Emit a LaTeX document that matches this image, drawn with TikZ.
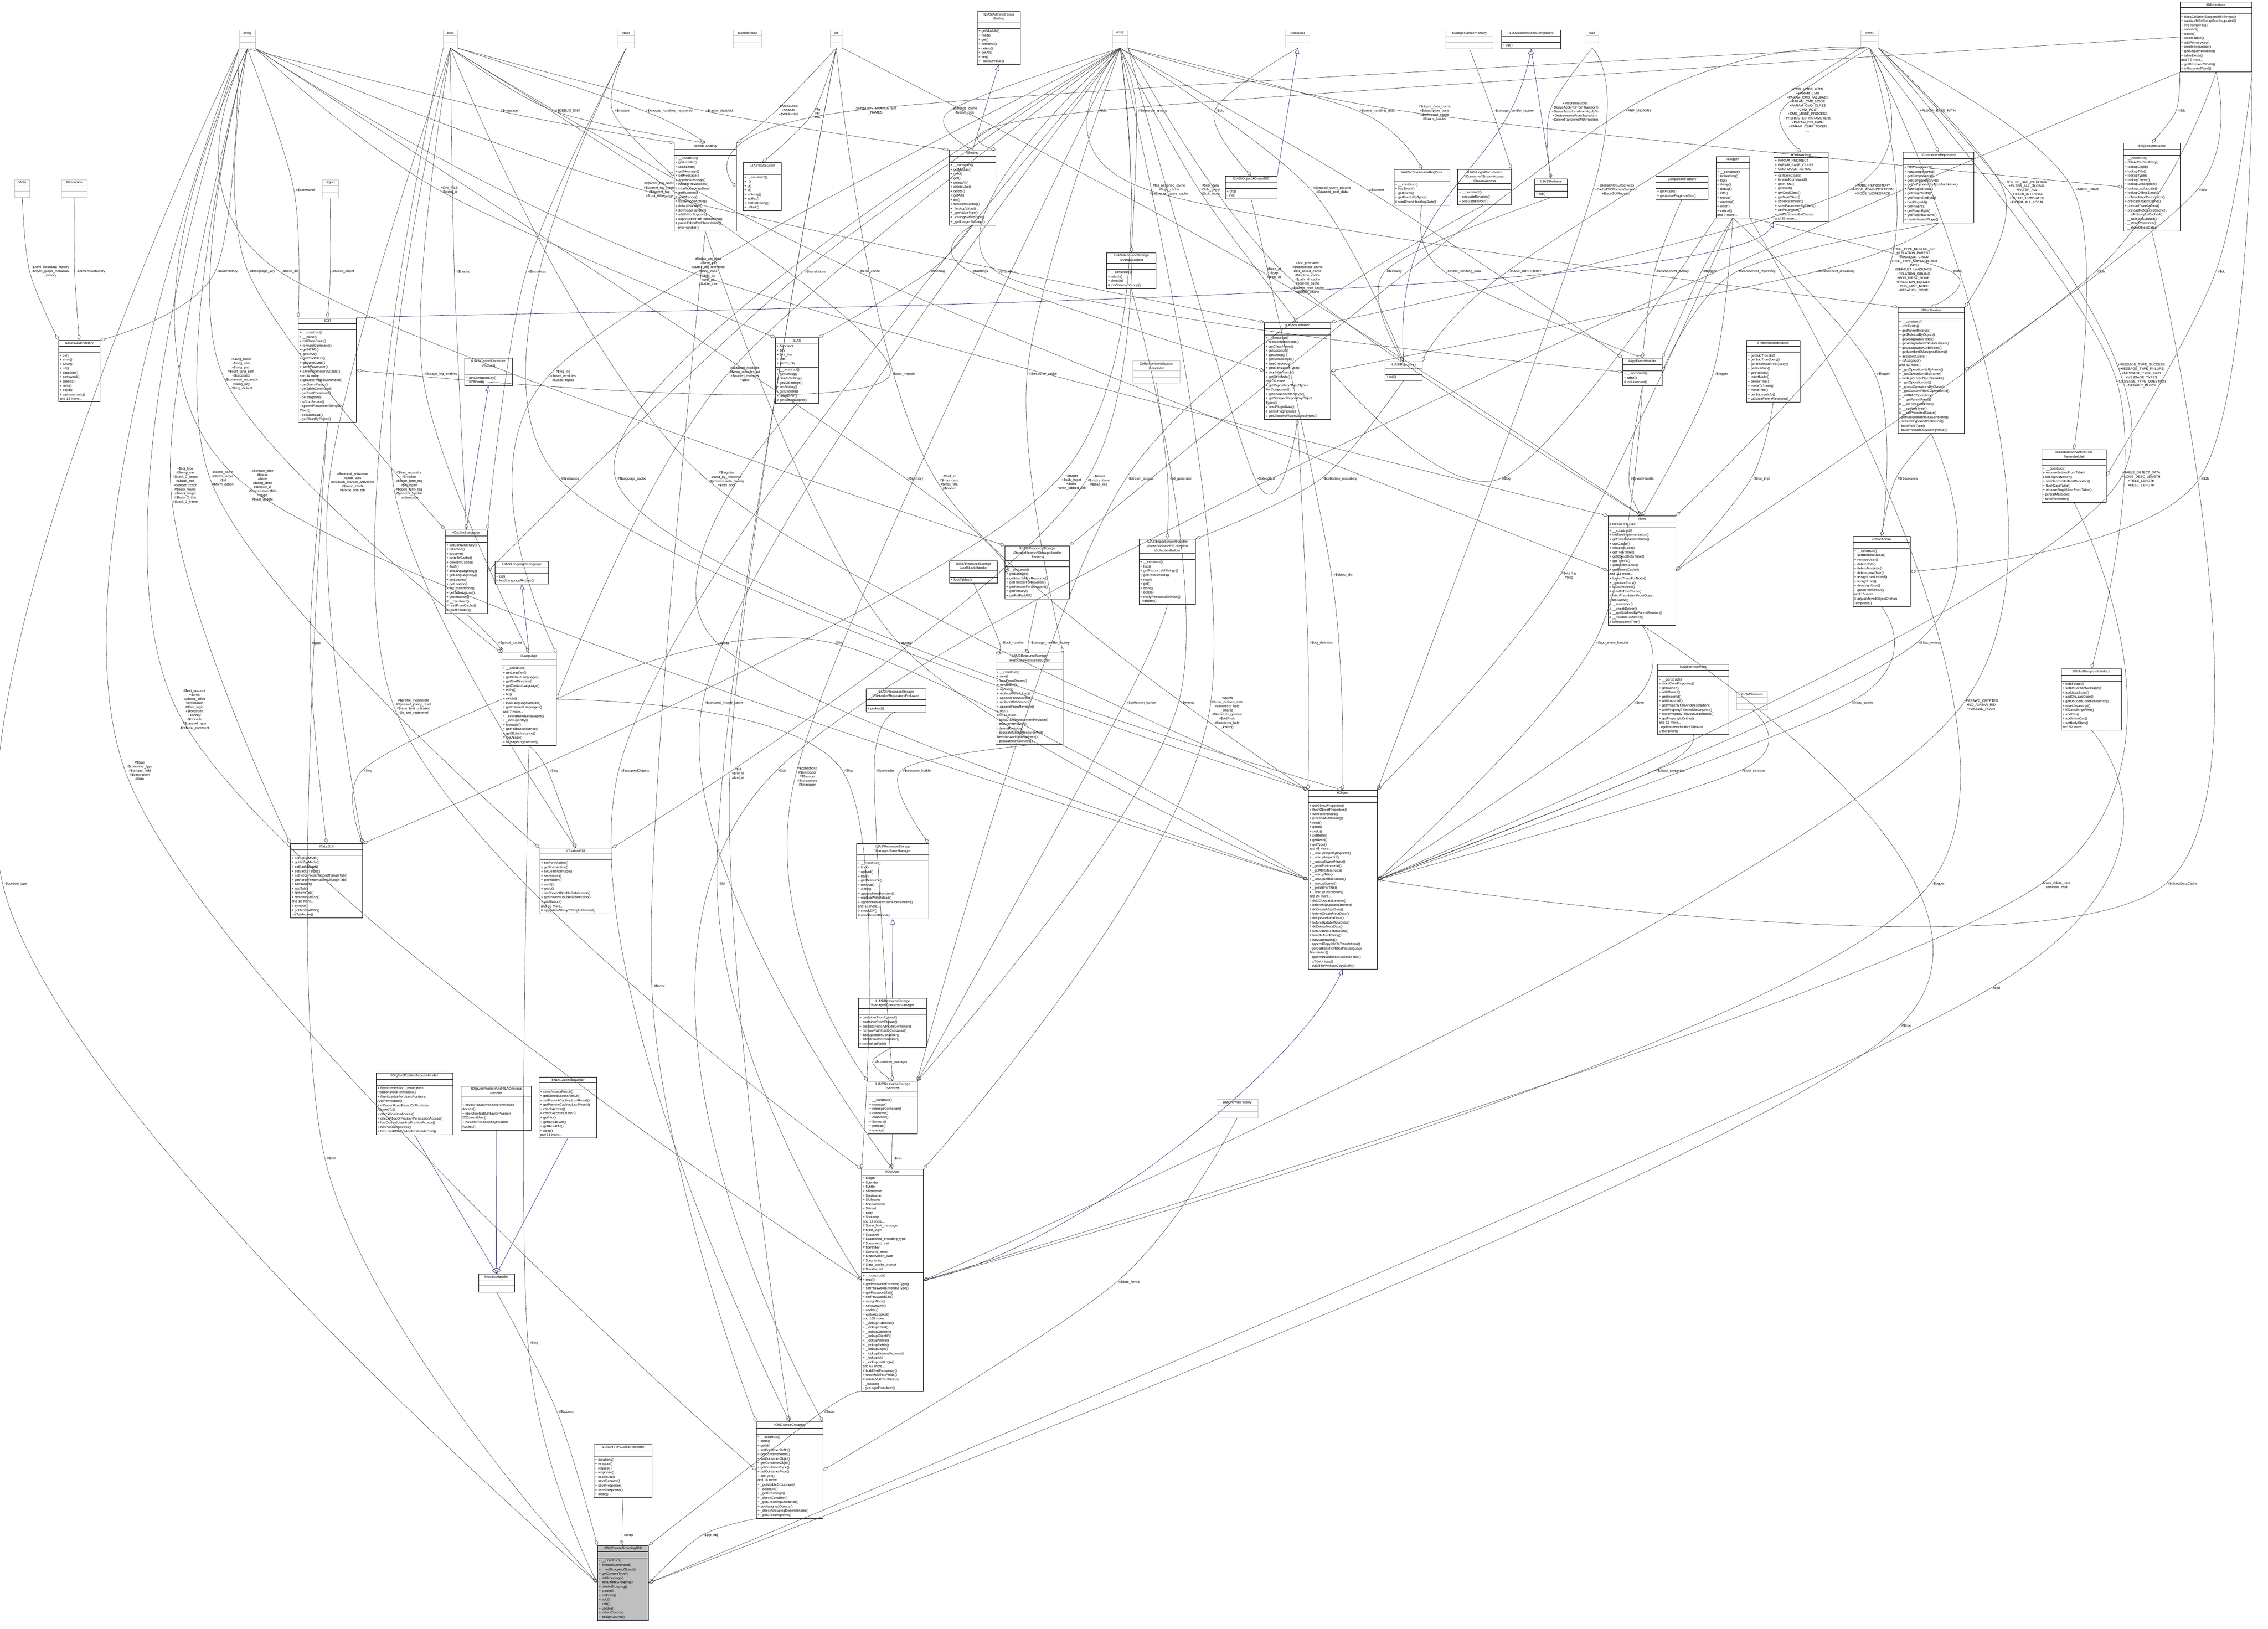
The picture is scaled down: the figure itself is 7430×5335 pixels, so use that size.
\documentclass[tikz,border=0pt]{standalone}
\usepackage{fontspec}
\setmainfont{Liberation Sans}
\usetikzlibrary{shapes.multipart,arrows.meta}
\definecolor{edgec}{HTML}{404040}
\definecolor{inhc}{HTML}{191970}
\newcounter{lc}
\tikzset{
 base/.style={rectangle split,rectangle split parts=3,draw,line width=0.12pt,anchor=north west,
   inner xsep=0.4pt,inner ysep=0.45pt,font=\fontsize{1.1pt}{1.42pt}\selectfont,align=left},
 cls/.style={base,draw=black},
 typ/.style={base,draw=gray!50},
 gui/.style={base,draw=black,fill=gray!50},
 agg/.style={draw=edgec,line width=0.1pt,-{Diamond[open,length=2pt,width=1.1pt,line width=0.1pt]}},
 inh/.style={draw=inhc,line width=0.1pt,-{Triangle[open,length=1.8pt,width=1.5pt,line width=0.1pt]}},
 lbl/.style={font=\fontsize{1.1pt}{1.35pt}\selectfont,align=center,inner xsep=0.5pt,inner ysep=0pt}
}
\newcommand\cls[8][cls]{\node[#1,text width=\dimexpr #5pt/10-0.8pt\relax] (#2) at (#3,#4)
 {\parbox[t]{\dimexpr #5pt/10-0.8pt\relax}{\centering #6}\nodepart{two}\vphantom{Ag}#7\nodepart{three}\vphantom{Ag}#8};}
\newcommand\typ[5]{\cls[typ]{#1}{#2}{#3}{#4}{#5}{}{}}
\newcommand\ag[4]{\stepcounter{lc}\node[lbl] (L\thelc) at (#2) {#4};
 \draw[agg] plot[smooth,tension=0.55] coordinates {(#1) (L\thelc.west) (#3)};}
\newcommand\bs{\textbackslash{}}
\begin{document}
\begin{tikzpicture}[x=0.1pt,y=-0.1pt]
\useasboundingbox (0,0) rectangle (7430,5335);
% ---------- type boxes ----------
\typ{string}{783}{98}{54}{string}
\typ{bool}{1452}{98}{46}{bool}
\typ{static}{2024}{98}{54}{static}
\typ{RunInterface}{2402}{98}{93}{RunInterface}
\typ{int}{2720}{98}{38}{int}
\typ{array}{3644}{98}{50}{array}
\typ{Container}{4212}{98}{78}{Container}
\typ{SHFtype}{4736}{98}{155}{StorageHandlerFactory}
\typ{trait}{5195}{98}{41}{trait}
\typ{const}{6096}{98}{56}{const}
\typ{Meta}{48}{588}{49}{Meta}
\typ{Dimension}{201}{588}{84}{Dimension}
\typ{object}{1055}{588}{53}{object}
\typ{CIG}{3711}{1182}{154}{CollectionIdentification\\Generator}
\typ{LOM}{5689}{2265}{100}{ilLOMServices}
\typ{DateFormatFactory}{3985}{3601}{135}{DateFormatFactory}
% ---------- classes ----------
\cls{Component}{4919}{98}{193}{ILIAS\bs Component\bs Component}{}{+ init()}
\cls{AdminSetting}{3201}{37}{141}{ILIAS\bs Administration\\\bs Setting}{}{+ getModule()\\+ read()\\+ get()\\+ deleteAll()\\+ delete()\\+ getAll()\\+ set()\\+ \_lookupValue()}
\cls{ilDBInterface}{7141}{6}{236}{ilDBInterface}{}{+ doesCollationSupportMB4Strings()\\+ sanitizeMB4StringIfNotSupported()\\+ initFromIniFile()\\+ connect()\\+ nextId()\\+ createTable()\\+ addPrimaryKey()\\+ createSequence()\\+ getSequenceName()\\+ tableExists()\\and 76 more...\\+ getReservedWords()\\+ isReservedWord()}
\cls{DataFactory}{191}{1114}{136}{ILIAS\bs Data\bs Factory}{}{+ ok()\\+ error()\\+ color()\\+ uri()\\+ dataSize()\\+ password()\\+ clientId()\\+ refId()\\+ objId()\\+ alphanumeric()\\and 12 more...}
\cls{ilCtrl}{977}{1041}{190}{ilCtrl}{}{+ \_\_construct()\\+ \_\_clone()\\+ callBaseClass()\\+ forwardCommand()\\+ getHTML()\\+ getCmd()\\+ getCmdClass()\\+ getNextClass()\\+ saveParameter()\\+ saveParameterByClass()\\and 34 more...\\\# getDeterminedCommand()\\- getQueryParam()\\- getTableCommand()\\- getPostCommand()\\- getTargetUrl()\\- isCmdSecure()\\- appendParameterStringsBy\\Class()\\- populateCall()\\- getClassByObject()}
\cls{CacheRequest}{1522}{1173}{155}{ILIAS\bs Cache\bs Container\\\bs Request}{}{+ getContainerKey()\\+ isForced()}
\cls{ilCachedLanguage}{1458}{1735}{138}{ilCachedLanguage}{}{+ getContainerKey()\\+ isForced()\\+ isActive()\\+ writeToCache()\\+ deleteInCache()\\+ flush()\\+ setLanguageKey()\\+ getLanguageKey()\\+ setLoaded()\\+ getLoaded()\\+ setTranslations()\\+ getTranslations()\\+ getInstance()\\\# \_\_construct()\\\# readFromCache()\\\# readFromDB()}
\cls{LangLanguage}{1621}{1838}{175}{ILIAS\bs Language\bs Language}{}{+ txt()\\+ loadLanguageModule()}
\cls{ilLanguage}{1643}{2139}{179}{ilLanguage}{}{+ \_\_construct()\\+ getLangKey()\\+ getDefaultLanguage()\\+ getTextDirection()\\+ getContentLanguage()\\+ txtlng()\\+ txt()\\+ exists()\\+ loadLanguageModule()\\+ getInstalledLanguages()\\and 7 more...\\+ \_getInstalledLanguages()\\+ \_lookupEntry()\\+ lookupId()\\+ getFallbackInstance()\\+ getGlobalInstance()\\\# logUsage()\\\# isUsageLogEnabled()}
\cls{ilErrorHandling}{2208}{468}{204}{ilErrorHandling}{}{+ \_\_construct()\\+ getHandler()\\+ raiseError()\\+ getMessage()\\+ setMessage()\\+ appendMessage()\\+ handlePreWhoops()\\\# initWhoopsHandlers()\\\# getRuntime()\\\# getWhoops()\\\# isDevmodeActive()\\\# defaultHandler()\\\# devmodeHandler()\\\# addEditorSupport()\\\# applyEditorPathTranslations()\\\# parseEditorPathTranslation()\\- errorHandler()}
\cls{Color}{2434}{532}{125}{ILIAS\bs Data\bs Color}{}{+ \_\_construct()\\+ r()\\+ g()\\+ b()\\+ asArray()\\+ asHex()\\+ asRGBString()\\+ isDark()}
\cls{ilSetting}{3109}{491}{153}{ilSetting}{}{+ \_\_construct()\\+ getModule()\\+ read()\\+ get()\\+ deleteAll()\\+ deleteLike()\\+ delete()\\+ getAll()\\+ set()\\+ setScormDebug()\\+ \_lookupValue()\\+ \_getValueType()\\+ \_changeValueType()\\+ \_getLongerSettings()}
\cls{EvSubject}{3625}{827}{161}{ILIAS\bs ResourceStorage\\\bs Events\bs Subject}{}{+ \_\_construct()\\+ attach()\\+ detach()\\\# initObserverGroup()}
\cls{ObjectDIC}{4014}{576}{169}{ILIAS\bs Object\bs ilObjectDIC}{}{+ dic()\\- init()}
\cls{ArtifactEHD}{4566}{554}{183}{ilArtifactEventHandlingData}{}{+ \_\_construct()\\+ hasEvent()\\+ getEvent()\\+ getEventsByType()\\\# readEventHandlingData()}
\cls{StreamAccess}{4775}{554}{175}{ILIAS\bs LegalDocuments\\\bs Consumer\bs StreamAccess\\\bs StreamAccess}{}{+ \_\_construct()\\+ populateRevision()\\+ populateFavour()}
\cls{ILIAS}{2540}{1106}{140}{ILIAS}{+ \$account\\+ \$ini\\+ \$ini\_ilias\\+ \$db\\+ \$error\_obj}{+ \_\_construct()\\+ getSetting()\\+ deleteSetting()\\+ getAllSettings()\\+ setSetting()\\+ getClientId()\\+ raiseError()\\\# getSettingObject()}
\cls{ilObjectDefinition}{4142}{1056}{217}{ilObjectDefinition}{}{+ \_\_construct()\\+ readDefinitionData()\\+ getClassName()\\+ getLocation()\\+ getGroup()\\+ getGroupOfObj()\\+ hasCheckbox()\\+ getTranslationType()\\+ stopInheritance()\\+ getDevMode()\\and 36 more...\\+ getRepositoryObjectTypes\\ForComponent()\\+ getComponentForType()\\+ getGroupedRepositoryObject\\Types()\\\# readPluginData()\\\# parsePluginData()\\\# getGroupedPluginObjectTypes()}
\cls{Repository}{4537}{1185}{121}{ILIAS\bs Repository}{}{+ init()}
\cls{CollectionBuilder}{3731}{1765}{185}{ILIAS\bs Export\bs ImportHandler\\\bs Parser\bs NodeInfo\bs Collection\\\bs CollectionBuilder}{}{+ \_\_construct()\\+ has()\\+ getResourceIdStrings()\\+ getResourceIds()\\+ new()\\+ get()\\+ store()\\+ delete()\\+ notifyResourceDeletion()\\- validate()}
\cls{LockHandler}{3110}{1837}{158}{ILIAS\bs ResourceStorage\\\bs Lock\bs LockHandler}{}{+ lockTables()}
\cls{StorageHF}{3292}{1787}{211}{ILIAS\bs ResourceStorage\\\bs StorageHandler\bs StorageHandler\\Factory}{}{+ \_\_construct()\\+ getBaseDir()\\+ getHandlerForResource()\\+ getHandlerForRevision()\\+ getHandlerForStorageId()\\+ getPrimary()\\+ getRidForURI()}
\cls{ResourceBuilder}{3261}{2139}{221}{ILIAS\bs ResourceStorage\\\bs Resource\bs ResourceBuilder}{}{+ \_\_construct()\\+ new()\\+ newFromStream()\\+ newBlank()\\+ append()\\+ replaceWithUpload()\\+ appendFromStream()\\+ replaceWithStream()\\+ appendFromRevision()\\+ has()\\and 12 more...\\- buildDraftReplacementRevision()\\- ensurePathInZIP()\\- deleteRevision()\\- populateNakedResourceWith\\RevisionAndStakeholders()\\- populateRevisionInfo()}
\cls{Preloader}{2837}{2256}{196}{ILIAS\bs ResourceStorage\\\bs Preloader\bs RepositoryPreloader}{}{+ preload()}
\cls{ilTabsGUI}{951}{2763}{236}{ilTabsGUI}{}{+ setSetupMode()\\+ getSetupMode()\\+ setBackTarget()\\+ setBack2Target()\\+ setForcePresentationOfSingleTab()\\+ getForcePresentationOfSingleTab()\\+ addTarget()\\+ addTab()\\+ removeTab()\\+ removeSubTab()\\and 18 more...\\\# symbol()\\\# getTabTextOfId()\\- isTabActive()}
\cls{ilToolbarGUI}{1768}{2778}{236}{ilToolbarGUI}{}{+ setFormAction()\\+ getFormAction()\\+ setLeadingImage()\\+ setHidden()\\+ getHidden()\\+ setId()\\+ getId()\\+ setPreventDoubleSubmission()\\+ getPreventDoubleSubmission()\\+ addButton()\\and 30 more...\\\# applyAutoStickyToSingleElement()}
\cls{BaseManager}{2806}{2763}{236}{ILIAS\bs ResourceStorage\\\bs Manager\bs BaseManager}{}{+ \_\_construct()\\+ find()\\+ upload()\\+ has()\\+ getResource()\\+ remove()\\+ clone()\\+ appendNewRevision()\\+ replaceWithUpload()\\+ appendNewRevisionFromStream()\\and 18 more...\\\# checkZIP()\\\# newStreamBased()}
\cls{ContainerManager}{2811}{3269}{224}{ILIAS\bs ResourceStorage\\\bs Manager\bs ContainerManager}{}{+ containerFromUpload()\\+ containerFromStream()\\+ createDirectoryInsideContainer()\\+ removePathInsideContainer()\\+ addUploadToContainer()\\+ addStreamToContainer()\\\# normalizePath()}
\cls{Services}{2843}{3541}{161}{ILIAS\bs ResourceStorage\\\bs Services}{}{+ \_\_construct()\\+ manage()\\+ manageContainer()\\+ consume()\\+ collection()\\+ flavours()\\+ preload()\\+ events()}
\cls{ilObjUser}{2822}{3829}{202}{ilObjUser}{+ \$login\\+ \$gender\\+ \$utitle\\+ \$firstname\\+ \$lastname\\+ \$fullname\\+ \$department\\+ \$street\\+ \$city\\+ \$country\\and 12 more...\\\# \$time\_limit\_message\\\# \$last\_login\\\# \$passwd\\\# \$password\_encoding\_type\\\# \$password\_salt\\\# \$birthday\\\# \$second\_email\\\# \$inactivation\_date\\\# \$org\_units\\\# \$last\_profile\_prompt\\\# \$avatar\_rid}{+ \_\_construct()\\+ read()\\+ getPasswordEncodingType()\\+ setPasswordEncodingType()\\+ getPasswordSalt()\\+ setPasswordSalt()\\+ assignData()\\+ saveAsNew()\\+ update()\\+ writeAccepted()\\and 169 more...\\+ \_lookupFullname()\\+ \_lookupEmail()\\+ \_lookupGender()\\+ \_lookupClientIP()\\+ \_lookupName()\\+ \_lookupFields()\\+ \_lookupLogin()\\+ \_lookupExternalAccount()\\+ \_lookupId()\\+ \_lookupLastLogin()\\and 62 more...\\\# buildTextFromArray()\\\# readMultiTextFields()\\\# deleteMultiTextFields()\\- \_lookup()\\- getLoginFromAuth()}
\cls{OrgPAH}{1232}{3514}{251}{ilOrgUnitPositionAccessHandler}{}{+ filterUserIdsForCurrentUsers\\PositionsAndPermission()\\+ filterUserIdsForUsersPositions\\AndPermission()\\+ isCurrentUserBasedOnPositions\\AllowedTo()\\+ checkPositionAccess()\\+ checkRbacOrPositionPermissionAccess()\\+ hasCurrentUserAnyPositionAccess()\\+ hasPositionAccess()\\+ hasUserRBACorAnyPositionAccess()}
\cls{OrgPRBAC}{1510}{3557}{230}{ilOrgUnitPositionAndRBACAccess\\Handler}{}{+ checkRbacOrPositionPermission\\Access()\\+ filterUserIdsByRbacOrPosition\\OfCurrentUser()\\+ hasUserRBACorAnyPosition\\Access()}
\cls{RBACAH}{1765}{3528}{189}{ilRBACAccessHandler}{}{+ storeAccessResult()\\+ getStoredAccessResult()\\+ setPreventCachingLastResult()\\+ getPreventCachingLastResult()\\+ checkAccess()\\+ checkAccessOfUser()\\+ getInfo()\\+ getResultLast()\\+ getResultAll()\\+ clear()\\and 11 more...}
\cls{ilAccessHandler}{1567}{4173}{118}{ilAccessHandler}{}{}
\cls{HttpState}{1945}{4731}{190}{ILIAS\bs HTTP\bs GlobalHttpState}{}{+ durations()\\+ wrapper()\\+ request()\\+ response()\\+ cookieJar()\\+ saveRequest()\\+ saveResponse()\\+ sendResponse()\\+ close()}
\cls[gui]{GUI}{1957}{5062}{167}{ilObjCourseGroupingGUI}{}{+ \_\_construct()\\+ executeCommand()\\+ \_\_initGroupingObject()\\+ getContentType()\\+ listGroupings()\\+ askDeleteGrouping()\\+ deleteGrouping()\\+ create()\\+ initForm()\\+ add()\\+ edit()\\+ update()\\+ selectCourse()\\+ assignCourse()}
\cls{ilObjCourseGrouping}{2477}{4657}{218}{ilObjCourseGrouping}{}{+ \_\_construct()\\+ setId()\\+ getId()\\+ setContainerRefId()\\+ getContainerRefId()\\+ setContainerObjId()\\+ getContainerObjId()\\+ getContainerType()\\+ setContainerType()\\+ setType()\\and 18 more...\\+ \_getVisibleGroupings()\\+ \_deleteAll()\\+ \_getGroupings()\\+ \_checkCondition()\\+ \_getGroupingCourseIds()\\+ getAssignedObjects()\\+ \_checkGroupingDependencies()\\+ \_getGroupingItems()}
\cls{ilObject}{4285}{2588}{226}{ilObject}{}{+ getObjectProperties()\\+ flushObjectProperties()\\+ withReferences()\\+ processAutoRating()\\+ read()\\+ getId()\\+ setId()\\+ setRefId()\\+ getRefId()\\+ getType()\\and 48 more...\\+ \_lookupObjIdByImportId()\\+ \_lookupImportId()\\+ \_lookupOwnerName()\\+ \_getIdForImportId()\\+ \_getAllReferences()\\+ \_lookupTitle()\\+ \_lookupOfflineStatus()\\+ \_lookupOwner()\\+ \_getIdsForTitle()\\+ \_lookupDescription()\\and 24 more...\\\# doMDUpdateListener()\\\# beforeMDUpdateListener()\\\# doCreateMetaData()\\\# beforeCreateMetaData()\\\# doUpdateMetaData()\\\# beforeUpdateMetaData()\\\# doDeleteMetaData()\\\# beforeDeleteMetaData()\\\# handleAutoRating()\\\# hasAutoRating()\\- appendCopyInfoToTranslations()\\- getCallbackForTitlesPerLanguage\\Translation()\\- appendNumberOfCopiesToTitle()\\- isTitleUnique()\\- buildTitleWithoutCopySuffix()}
\cls{ilObjectProperties}{5430}{2175}{233}{ilObjectProperties}{}{+ \_\_construct()\\+ storeCoreProperties()\\+ getOwner()\\+ withOwner()\\+ getImportId()\\+ withImportId()\\+ getPropertyTitleAndDescription()\\+ withPropertyTitleAndDescription()\\+ storePropertyTitleAndDescription()\\+ getPropertyIsOnline()\\and 12 more...\\- updateMetadataForTitleAnd\\Description()}
\cls{ilGlobalTpl}{6752}{2190}{198}{ilGlobalTemplateInterface}{}{+ hideFooter()\\+ setOnScreenMessage()\\+ addJavaScript()\\+ addOnLoadCode()\\+ getOnLoadCodeForAsynch()\\+ resetJavascript()\\+ fillJavaScriptFiles()\\+ addCss()\\+ addInlineCss()\\+ setBodyClass()\\and 52 more...}
\cls{Refinery}{5027}{585}{107}{ILIAS\bs Refinery}{}{+ init()}
\cls{ComponentFactory}{5424}{577}{171}{ComponentFactory}{}{+ getPlugin()\\+ getActivePluginsInSlot()}
\cls{ilLogger}{5621}{512}{110}{ilLogger}{}{+ \_\_construct()\\+ isHandling()\\+ log()\\+ dump()\\+ debug()\\+ info()\\+ notice()\\+ warning()\\+ error()\\+ critical()\\and 7 more...}
\cls{ilCtrlInterface}{5810}{498}{179}{ilCtrlInterface}{+ PARAM\_REDIRECT\\+ PARAM\_BASE\_CLASS\\+ CMD\_MODE\_ASYNC}{+ callBaseClass()\\+ forwardCommand()\\+ getHTML()\\+ getCmd()\\+ getCmdClass()\\+ getNextClass()\\+ saveParameter()\\+ saveParameterByClass()\\+ setParameter()\\+ setParameterByClass()\\and 32 more...}
\cls{ilComponentRepository}{6234}{498}{231}{ilComponentRepository}{}{+ hasComponent()\\+ hasComponentId()\\+ getComponents()\\+ getComponentById()\\+ getComponentByTypeAndName()\\+ hasPluginSlotId()\\+ getPluginSlots()\\+ getPluginSlotById()\\+ hasPluginId()\\+ getPlugins()\\+ getPluginById()\\+ getPluginByName()\\+ hasActivatedPlugin()}
\cls{ilObjectDataCache}{6956}{468}{185}{ilObjectDataCache}{}{+ \_\_construct()\\+ deleteCachedEntry()\\+ lookupObjId()\\+ lookupTitle()\\+ lookupType()\\+ lookupOwner()\\+ lookupDescription()\\+ lookupLastUpdate()\\+ lookupOfflineStatus()\\+ isTranslatedDescription()\\+ preloadObjectCache()\\+ preloadTranslations()\\+ preloadReferenceCache()\\- \_\_isReferenceCached()\\- \_\_isObjectCached()\\- \_\_storeReference()\\- \_\_storeObjectData()}
\cls{ilAppEventHandler}{5316}{1173}{128}{ilAppEventHandler}{}{+ \_\_construct()\\+ raise()\\\# initListeners()}
\cls{ilTreeImpl}{5721}{1114}{175}{ilTreeImplementation}{}{+ getSubTreeIds()\\+ getSubTreeQuery()\\+ getTrashSubTreeQuery()\\+ getRelation()\\+ getPathIds()\\+ insertNode()\\+ deleteTree()\\+ moveToTrash()\\+ moveTree()\\+ getSubtreeInfo()\\+ validateParentRelations()}
\cls{ilRbacReview}{6217}{1006}{218}{ilRbacReview}{}{+ \_\_construct()\\+ roleExists()\\+ getParentRoleIds()\\+ getRoleListByObject()\\+ getAssignableRoles()\\+ getAssignableRolesInSubtree()\\+ getAssignableChildRoles()\\+ getNumberOfAssignedUsers()\\+ assignedUsers()\\+ isAssigned()\\and 43 more...\\+ \_getOperationIdsByName()\\+ \_getOperationIdByName()\\+ lookupCreateOperationIds()\\+ \_getOperationList()\\+ \_groupOperationsByClass()\\+ \_getCustomRBACOperationId()\\+ \_isRBACOperation()\\\# \_\_getParentRoles()\\\# \_\_setTemplateFilter()\\\# \_\_setRoleType()\\\# \_\_setProtectedStatus()\\- getAssignableRolesGenerator()\\- setRoleTypeAndProtection()\\- buildRoleType()\\- buildProtectionByStringValue()}
\cls{ilCronDelete}{6688}{1472}{211}{ilCronDeleteInactiveUser\\ReminderMail}{}{+ \_\_construct()\\+ removeEntriesFromTableIf\\LastLoginIsNewer()\\+ sendReminderMailIfNeeded()\\+ flushDataTable()\\+ removeSingleUserFromTable()\\- persistMailSent()\\- sendReminder()}
\cls{ilTree}{5268}{1690}{221}{ilTree}{\# DEFAULT\_GAP}{+ \_\_construct()\\+ initTreeImplementation()\\+ getTreeImplementation()\\+ useCache()\\+ initLangCode()\\+ getTreeTable()\\+ getObjectDataTable()\\+ getTreePk()\\+ getDepthCache()\\+ getParentCache()\\and 111 more...\\+ lookupTreesForNode()\\+ \_removeEntry()\\\# isCacheUsed()\\\# resetInTreeCache()\\\# fetchTranslationFromObject\\DataCache()\\\# \_\_renumber()\\\# \_\_checkDelete()\\\# \_\_getSubTreeByParentRelation()\\\# \_\_validateSubtrees()\\\# isRepositoryTree()}
\cls{ilRbacAdmin}{6070}{1757}{187}{ilRbacAdmin}{}{+ \_\_construct()\\+ setBlockedStatus()\\+ removeUser()\\+ deleteRole()\\+ deleteTemplate()\\+ deleteLocalRole()\\+ assignUserLimited()\\+ assignUser()\\+ deassignUser()\\+ grantPermission()\\and 15 more...\\\# adjustMovedObjectOrphan\\Templates()}
% ---------- inheritance ----------
\draw[inh] (ilSetting.north) -- (AdminSetting.south);
\draw[inh] (ObjectDIC.north east) -- (Container.south);
\draw[inh] (ilCachedLanguage.north) -- (CacheRequest.south);
\draw[inh] (ilLanguage.north) -- (LangLanguage.south);
\draw[inh] (ContainerManager.north) -- (BaseManager.south);
\draw[inh] (Refinery.north) -- (Component.south);
\draw[inh] (Repository.north) .. controls (4560,600) and (4930,600) .. (Component.south);
\draw[inh] (ilCtrl.north east) .. controls (1600,1020) and (5700,1000) .. (ilCtrlInterface.south west);
\draw[inh] (OrgPAH.south) -- (ilAccessHandler.north);
\draw[inh] (OrgPRBAC.south) -- (ilAccessHandler.north);
\draw[inh] (RBACAH.south) -- (ilAccessHandler.north);
\draw[inh] (ilObjUser.east) .. controls (3500,4100) and (4250,3500) .. (ilObject.south);
% ---------- aggregations ----------
\ag{string.south}{1669,363}{ilErrorHandling.north west}{\#\$message}
\ag{bool.south}{1860,363}{ilErrorHandling.north}{\#\$DEBUG\_ENV}
\ag{static.south}{2038,363}{ilErrorHandling.160}{+\$module}
\ag{bool.south east}{2192,363}{ilErrorHandling.north}{\#\$whoops\_handlers\_registered}
\ag{bool.south east}{2356,363}{ilSetting.north west}{\#\$cache\_disabled}
\ag{Meta.south}{165,890}{DataFactory.north west}{-\$html\_metadata\_factory\\-\$open\_graph\_metadata\\\_factory}
\ag{Dimension.south}{298,890}{DataFactory.north}{-\$dimensionfactory}
\ag{object.south}{1125,890}{ilCtrl.north}{\#\$exec\_object}
\ag{string.south}{1000,622}{ilCtrl.north west}{\#\$command}
\ag{string.south west}{745,890}{DataFactory.north east}{-\$colorfactory}
\ag{string.south}{860,890}{ilCachedLanguage.north west}{\#\$language\_key}
\ag{string.south}{950,890}{StorageHF.north west}{-\$base\_dir}
\ag{bool.south}{1518,890}{ilCachedLanguage.north}{\#\$loaded}
\ag{static.south}{1760,890}{ilCachedLanguage.north east}{\#\$instances}
\ag{string.south east}{1472,622}{ILIAS.north west}{+\$INI\_FILE\\+\$client\_id}
\ag{string.south east}{2160,622}{ilObjectDefinition.north west}{\#\$parent\_tag\_name\\\#\$current\_tag\_name\\\#\$current\_tag\\\#\$root\_trans\_type}
\ag{string.south east}{2320,890}{ilTree.north west}{\#\$table\_obj\_data\\\#\$tree\_pk\\\#\$table\_obj\_reference\\-\$lang\_code\\\#\$obj\_pk\\\#\$ref\_pk\\\#\$table\_tree}
\ag{string.south}{790,1225}{ilLanguage.north west}{+\$lang\_name\\+\$lang\_user\\+\$lang\_path\\\#\$cust\_lang\_path\\+\$separator\\+\$comment\_separator\\+\$lang\_key\\+\$lang\_default}
\ag{bool.south}{1445,1225}{ilLanguage.north}{\#\$usage\_log\_enabled}
\ag{array.south}{1845,1232}{ilLanguage.north east}{\#\$lng\_log\\\#\$used\_modules\\\#\$used\_topics}
\ag{array.south}{2440,1225}{ilLanguage.east}{\#\$cached\_modules\\\#\$map\_modules\_txt\\+\$loaded\_modules\\+\$text}
\ag{string.south}{607,1590}{ilTabsGUI.north west}{+\$obj\_type\\\#\$temp\_var\\\#\$back\_2\_target\\\#\$back\_title\\+\$target\_script\\\#\$back\_frame\\+\$back\_target\\\#\$back\_2\_title\\\#\$back\_2\_frame}
\ag{string.south}{730,1568}{ilToolbarGUI.north west}{\#\$form\_name\\\#\$form\_target\\\#\$id\\\#\$form\_action}
\ag{string.south}{860,1590}{ilObject.west}{\#\$create\_date\\\#\$desc\\\#\$title\\\#\$long\_desc\\\#\$import\_id\\+\$untranslatedTitle\\\#\$type\\\#\$last\_update}
\ag{bool.south}{1155,1580}{ilTabsGUI.north east}{\#\$manual\_activation\\\#\$sub\_tabs\\\#\$subtab\_manual\_activation\\+\$setup\_mode\\\#\$force\_one\_tab}
\ag{bool.south}{1340,1590}{ilToolbarGUI.north}{\#\$has\_separator\\\#\$hidden\\\#\$close\_form\_tag\\\#\$multipart\\\#\$open\_form\_tag\\\#\$prevent\_double\\\_submission}
\ag{static.south}{1868,1568}{ilObject.north west}{\#\$instances}
\ag{array.south}{2070,1568}{ilObject.north}{\#\$language\_cache}
\ag{bool.south}{2380,1570}{ilObject.north west}{\#\$register\\\#\$call\_by\_reference\\-\$process\_auto\_reating\\\#\$add\_dots}
\ag{int.south}{2584,361}{ilErrorHandling.north east}{-\$MESSAGE\\+\$FATAL\\+\$WARNING}
\ag{int.south}{2678,372}{Color.north}{\#\$g\\\#\$r\\\#\$b}
\ag{const.south}{2868,363}{ilErrorHandling.east}{-SENSITIVE\_PARAMETER\\\_NAMES}
\ag{array.south}{3160,363}{ilSetting.north}{-\$settings\_cache\\-\$value\_type}
\ag{ilDBInterface.west}{3613,363}{ilSetting.north east}{\#\$db}
\ag{array.south}{3777,363}{EvSubject.north}{\#\$observer\_groups}
\ag{Container.south}{3998,363}{ObjectDIC.north}{-\$dic}
\ag{array.south east}{4512,363}{ArtifactEHD.north}{\#\$event\_handling\_data}
\ag{array.south east}{4700,370}{ilObjectDataCache.west}{\#\$object\_data\_cache\\\#\$description\_trans\\\#\$reference\_cache\\\#\$trans\_loaded}
\ag{SHFtype.south}{4960,363}{StreamAccess.north east}{-\$storage\_handler\_factory}
\ag{array.south}{3830,622}{ilRbacReview.north west}{\#\$is\_assigned\_cache\\\#\$ops\_cache\\\#\$assigned\_users\_cache}
\ag{array.south}{3966,622}{ilObjectDefinition.north}{\#\$obj\_data\\\#\$obj\_group\\\#\$sub\_types}
\ag{array.south}{4364,622}{Repository.north}{\#\$passed\_query\_params\\\#\$passed\_post\_data}
\ag{array.south}{4510,622}{ilAppEventHandler.north west}{\#\$listener}
\ag{array.south}{2672,890}{ilCachedLanguage.east}{\#\$translations}
\ag{bool.south}{2850,890}{ilTree.west}{\#\$use\_cache}
\ag{ilSetting.south}{3073,890}{ILIAS.north east}{\#\$setting}
\ag{ilSetting.south}{3212,890}{ilObjectDefinition.west}{\#\$settings}
\ag{array.south}{3300,890}{ilAppEventHandler.west}{\#\$handlers}
\ag{int.south east}{4173,895}{ilTree.north}{\#\$tree\_id\\-\$gap\\\#\$root\_id}
\ag{array.south east}{4284,910}{ilTree.north}{\#\$oc\_preloaded\\\#\$translation\_cache\\\#\$is\_saved\_cache\\\#\$in\_tree\_cache\\-\$path\_id\_cache\\\#\$parent\_cache\\\#\$parent\_type\_cache\\\#\$depth\_cache}
\ag{Refinery.south}{4568,890}{Repository.north}{\#\$refinery}
\ag{ArtifactEHD.south}{4795,890}{ilAppEventHandler.north}{-\$event\_handling\_data}
\ag{const.south west}{4997,890}{Repository.north east}{+BASE\_DIRECTORY}
\ag{bool.south}{2960,1225}{ilCtrl.east}{-\$auto\_migrate}
\ag{array.south}{3417,1225}{ResourceBuilder.north east}{\#\$resource\_cache}
\ag{string.south east}{3000,1568}{StorageHF.west}{\#\$primary}
\ag{int.south}{3110,1580}{ilObject.north west}{\#\$ref\_id\\\#\$max\_desc\\\#\$max\_title\\\#\$owner}
\ag{LockHandler.south}{3318,2106}{ResourceBuilder.north west}{-\$lock\_handler}
\ag{StorageHF.south}{3440,2106}{ResourceBuilder.north}{-\$storage\_handler\_factory}
\ag{array.south}{3510,1580}{ilTabsGUI.north east}{+\$target\\+\$sub\_target\\+\$tabs\\+\$non\_tabbed\_link}
\ag{array.south}{3600,1575}{ilToolbarGUI.north east}{+\$items\\\#\$sticky\_items\\\#\$lead\_img}
\ag{StreamAccess.south}{3737,1568}{Services.north east}{-\$stream\_access}
\ag{CIG.south}{3868,1568}{CollectionBuilder.north}{-\$id\_generator}
\ag{array.south east}{4148,1568}{ilObjectDefinition.south}{+\$objectList}
\ag{Repository.south}{4390,1568}{CollectionBuilder.north east}{-\$collection\_repository}
\ag{ilLogger.south west}{4935,1568}{ilObjectDefinition.east}{\#\$log}
\ag{trait.south}{5160,365}{Refinery.north}{+ProblemBuilder\\+DeriveApplyToFromTransform\\+DeriveTransformFromApplyTo\\+DeriveInvokeFromTransform\\+DeriveTransformWithProblem}
\ag{const.south}{5368,363}{StorageHF.north east}{+PHP\_MEMORY}
\ag{const.south}{5922,360}{ilCtrlInterface.north}{+CMD\_MODE\_HTML\\+PARAM\_CMD\\+PARAM\_CMD\_FALLBACK\\+PARAM\_CMD\_MODE\\+PARAM\_CMD\_CLASS\\+CMD\_POST\\+CMD\_MODE\_PROCESS\\+PROTECTED\_PARAMETERS\\+PARAM\_CID\_PATH\\+PARAM\_CSRF\_TOKEN\\...}
\ag{const.south}{6348,363}{ilComponentRepository.north}{+PLUGIN\_BASE\_PATH}
\ag{ilDBInterface.south west}{7148,363}{ilObjectDataCache.north}{\#\$db}
\ag{trait.south}{5294,622}{ilObject.north east}{+GlobalDICGUIServices\\+GlobalDICDomainServices\\+BaseGUIRequest}
\ag{const.south}{6134,622}{ilObjectDefinition.north east}{+MODE\_REPOSITORY\\+MODE\_ADMINISTRATION\\+MODE\_WORKSPACE}
\ag{const.south east}{6640,630}{ilRbacReview.north east}{+FILTER\_NOT\_INTERNAL\\+FILTER\_ALL\_GLOBAL\\+FILTER\_ALL\\+FILTER\_INTERNAL\\+FILTER\_TEMPLATES\\+FILTER\_ALL\_LOCAL}
\ag{const.south east}{6838,622}{ilCronDelete.north}{+TABLE\_NAME}
\ag{ilDBInterface.south}{7217,622}{ilRbacReview.east}{\#\$db}
\ag{ComponentFactory.south}{5480,890}{ilAppEventHandler.north}{\#\$component\_factory}
\ag{ilLogger.south}{5602,890}{ilAppEventHandler.north east}{\#\$logger}
\ag{ilComponentRepository.south}{5756,890}{ilAppEventHandler.east}{\#\$component\_repository}
\ag{ilComponentRepository.south}{6015,890}{ilObjectDefinition.east}{\#\$component\_repository}
\ag{const.south}{6268,890}{ilTree.north east}{+TREE\_TYPE\_NESTED\_SET\\+RELATION\_PARENT\\+RELATION\_CHILD\\+TREE\_TYPE\_MATERIALIZED\\\_PATH\\\#DEFAULT\_LANGUAGE\\+RELATION\_SIBLING\\+POS\_FIRST\_NODE\\+RELATION\_EQUALS\\+POS\_LAST\_NODE\\+RELATION\_NONE\\...}
\ag{ilLogger.south east}{6413,890}{ilRbacReview.north}{\#\$log}
\ag{ilDBInterface.south}{6883,890}{ilTree.east}{\#\$db}
\ag{ilDBInterface.south east}{7278,890}{ilCronDelete.east}{\#\$db}
\ag{ilAppEventHandler.south}{5382,1568}{ilTree.north}{\#\$eventHandler}
\ag{ilTreeImpl.south}{5771,1568}{ilTree.east}{-\$tree\_impl}
\ag{ilRbacReview.south}{6250,1568}{ilRbacAdmin.north}{\#\$rbacreview}
\ag{const.south east}{7015,1570}{ilObject.east}{+TABLE\_OBJECT\_DATA\\+LONG\_DESC\_LENGTH\\+TITLE\_LENGTH\\+DESC\_LENGTH}
\ag{ilDBInterface.south east}{7224,1568}{ilRbacAdmin.east}{\#\$db}
\ag{ilLogger.south}{5639,1225}{ilTree.north}{\#\$logger}
\ag{ilLogger.south}{6170,1225}{ilRbacAdmin.north}{\#\$logger}
\ag{const.south east}{7015,1230}{ilGlobalTpl.north}{+MESSAGE\_TYPE\_SUCCESS\\+MESSAGE\_TYPE\_FAILURE\\+MESSAGE\_TYPE\_INFO\\+MESSAGE\_TYPES\\+MESSAGE\_TYPE\_QUESTION\\+DEFAULT\_BLOCK}
\ag{ilCtrl.south}{1036,2107}{ilTabsGUI.north}{\#\$ctrl}
\ag{ilCachedLanguage.south}{1671,2106}{ilLanguage.north west}{\#\$global\_cache}
\ag{ILIAS.south}{2373,2107}{ilObject.west}{\#\$ilias}
\ag{ilLanguage.east}{2750,2107}{ilObject.west}{\#\$lng}
\ag{ilErrorHandling.south}{2970,2107}{ilObject.west}{\#\$error}
\ag{string.south west}{637,2330}{ilObjUser.west}{\#\$ext\_account\\+\$area\\-\$phone\_office\\+\$institution\\\#\$last\_login\\+\$longitude\\+\$hobby\\-\$zipcode\\\#\$passwd\_type\\-\$referral\_comment\\...}
\ag{bool.south west}{1355,2315}{ilObjUser.north west}{\#\$profile\_incomplete\\\#\$passwd\_policy\_reset\\\#\$time\_limit\_unlimited\\-\$is\_self\_registered}
\ag{array.south}{2372,2302}{ilObjUser.north}{\#\$personal\_image\_cache}
\ag{string.south west}{458,2525}{ilObjCourseGrouping.west}{\#\$type\\-\$container\_type\\\#\$unique\_field\\\#\$description\\\#\$title}
\ag{ilLanguage.west}{1206,2525}{ilTabsGUI.north east}{\#\$lng}
\ag{ilLanguage.south}{1815,2525}{ilToolbarGUI.north}{\#\$lng}
\ag{array.south}{2080,2525}{ilObjCourseGrouping.north}{\#\$assignedObjects}
\ag{int.south}{2418,2535}{ilObjCourseGrouping.north}{-\$id\\\#\$ref\_id\\\#\$ref\_id}
\ag{ilDBInterface.south west}{2562,2525}{ilObjCourseGrouping.north east}{\#\$db}
\ag{array.south}{2645,2545}{Services.north west}{\#\$collections\\\#\$preloader\\\#\$flavours\\\#\$consumers\\\#\$manager}
\ag{ilLanguage.east}{2780,2525}{ilObjUser.north west}{\#\$lng}
\ag{Preloader.south}{2900,2525}{Services.north}{\#\$preloader}
\ag{ResourceBuilder.south}{3005,2525}{BaseManager.north east}{\#\$resource\_builder}
\ag{string.south west}{52,2895}{GUI.west}{-\$content\_type}
\ag{int.south}{2365,2895}{ilObjUser.west}{-\$id}
\ag{ilErrorHandling.south}{2160,3230}{ilObjCourseGrouping.north west}{\#\$error}
\ag{ContainerManager.south}{2919,3479}{Services.north}{\#\$container\_manager}
\ag{Services.south}{2941,3795}{ilObjUser.north}{-\$irss}
\ag{ObjectDIC.south}{4400,1883}{ilObject.north}{\#\$object\_dic}
\ag{ilLogger.south}{5140,1886}{ilObject.north east}{\#\$obj\_log\\\#\$log}
\ag{ilObjectDefinition.south}{4330,2107}{ilObject.north west}{\#\$obj\_definition}
\ag{ilAppEventHandler.south}{5282,2107}{ilObject.east}{\#\$app\_event\_handler}
\ag{ilRbacReview.south}{6320,2107}{ilObject.east}{\#\$rbac\_review}
\ag{array.south}{4020,2335}{ilObjUser.north east}{+\$prefs\\+\$user\_defined\_data\\\#\$interests\_help\\\_offered\\\#\$interests\_general\\\#\$oldPrefs\\\#\$interests\_help\\\_looking}
\ag{EvSubject.south}{3890,2302}{Services.north east}{\#\$events}
\ag{CollectionBuilder.south}{3740,2302}{Services.north east}{\#\$collection\_builder}
\ag{ilTree.south}{5370,2302}{ilObject.east}{\#\$tree}
\ag{ilRbacAdmin.south}{6100,2302}{ilObject.east}{\#\$rbac\_admin}
\ag{const.south}{6490,2310}{ilObjUser.east}{+PASSWD\_CRYPTED\\+NO\_AVATAR\_RID\\+PASSWD\_PLAIN}
\ag{ilObjectProperties.south}{5472,2525}{ilObject.east}{\#\$object\_properties}
\ag{LOM.south}{5745,2525}{ilObject.east}{\#\$lom\_services}
\ag{ilLogger.south east}{6350,2895}{ilObjUser.east}{-\$logger}
\ag{ilCronDelete.south}{6735,2900}{ilObjUser.east}{-\$cron\_delete\_user\\\_reminder\_mail}
\ag{ilObjectDataCache.south}{7150,2895}{ilObject.east}{\#\$objectDataCache}
\ag{ilGlobalTpl.south}{6540,3237}{GUI.east}{\#\$tpl}
\ag{ilTree.south}{6245,3360}{GUI.east}{\#\$tree}
\ag{ilObjUser.south west}{2718,4624}{GUI.north east}{\#\$user}
\ag{ilAccessHandler.south}{1855,4625}{GUI.north west}{\#\$access}
\ag{HttpState.south}{2060,5030}{GUI.north}{\#\$http}
\ag{ilObjCourseGrouping.south west}{2328,5030}{GUI.east}{-\$grp\_obj}
\ag{ilCtrl.south}{1085,3795}{GUI.west}{\#\$ctrl}
\ag{ilLanguage.south}{1750,4400}{GUI.west}{\#\$lng}
\ag{DateFormatFactory.south}{3700,4200}{ilObjCourseGrouping.east}{\#\$date\_format}
\end{tikzpicture}
\end{document}
